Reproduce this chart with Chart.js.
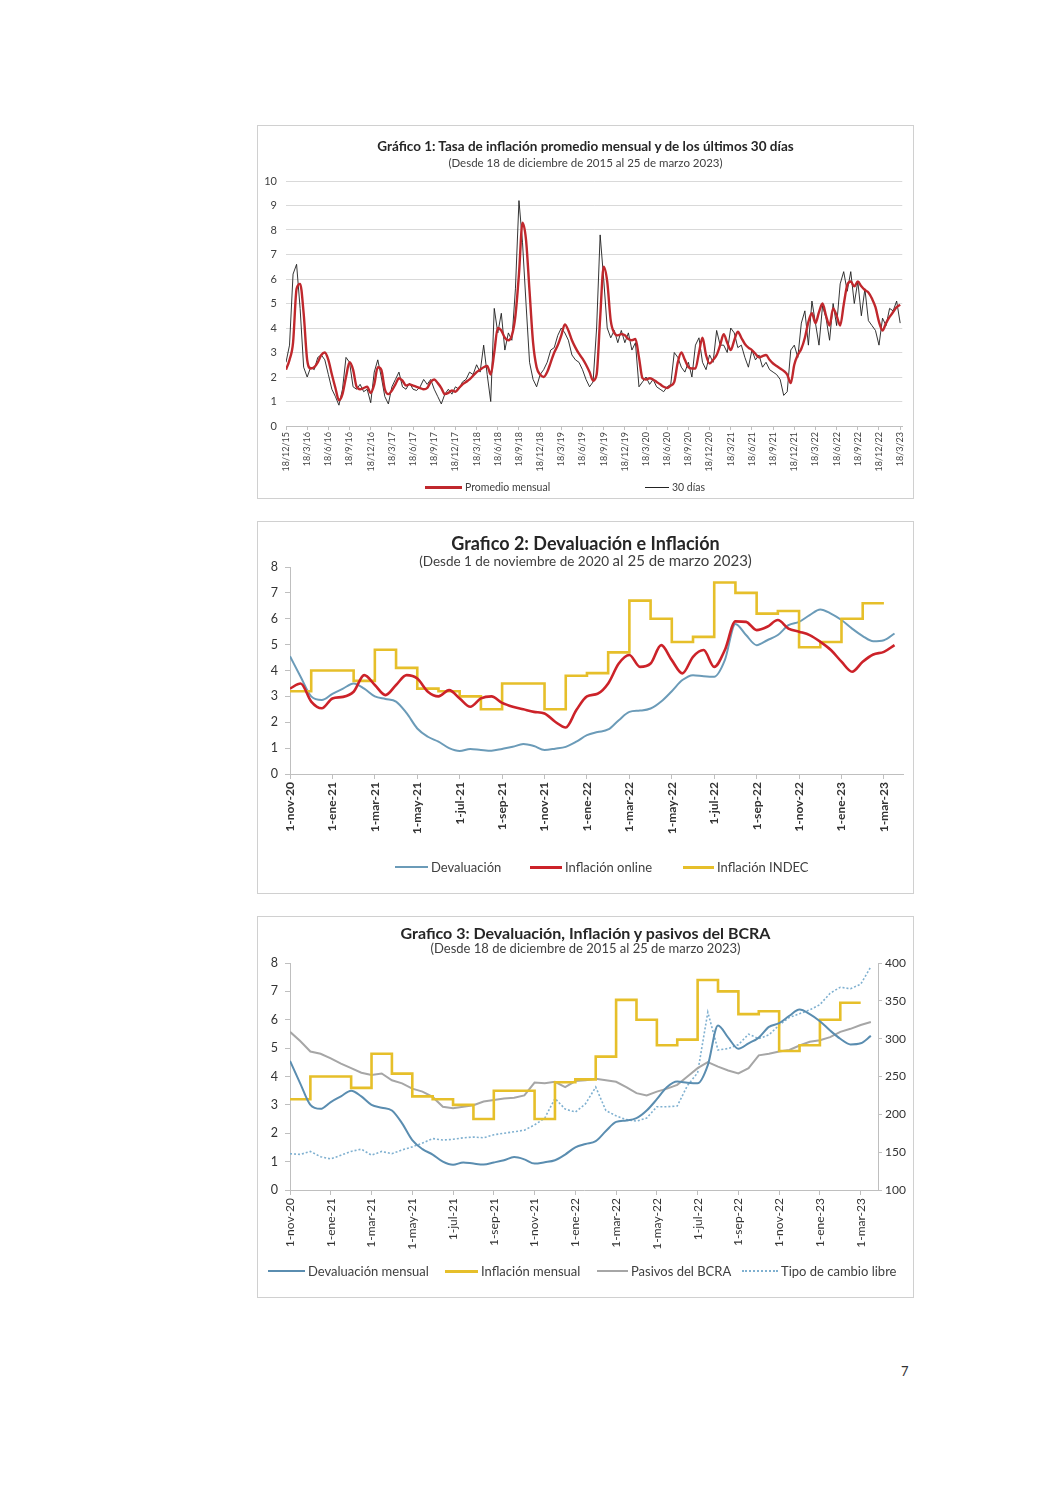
<!DOCTYPE html>
<html>
<head>
<meta charset="utf-8">
<script src="https://cdn.jsdelivr.net/npm/chart.js@4.4.1/dist/chart.umd.min.js"></script>
<style>
  body { margin: 0; background: #fff; width: 1060px; height: 1500px; position: relative;
         font-family: Lato, "Open Sans", sans-serif; color: #262626; }
  .box { position: absolute; border: 1px solid #d0d0d0; background: #fff; }
  .box canvas { position: absolute; left: 0; top: 0; }
  .title { position: absolute; left: 0; width: 100%; text-align: center; font-weight: bold; white-space: nowrap; z-index: 2; }
  .sub { position: absolute; left: 0; width: 100%; text-align: center; white-space: nowrap; color: #404040; z-index: 2; }
  .lg { position: absolute; display: flex; align-items: center; white-space: nowrap; color: #404040; z-index: 2; }
  .ln { display: inline-block; height: 0; margin-right: 3px; }
  .page { position: absolute; left: 901px; top: 1363px; font-size: 13px; color: #333; }
</style>
</head>
<body>

<div class="box" style="left:257px;top:125px;width:655px;height:372px;">
  <div class="title" style="top:11px;font-size:13.5px;line-height:18px;">Gráfico 1: Tasa de inflación promedio mensual y de los últimos 30 días</div>
  <div class="sub" style="top:30px;font-size:11.5px;line-height:14px;">(Desde 18 de diciembre de 2015 al 25 de marzo 2023)</div>
  <canvas id="chart1" width="655" height="372"></canvas>
  <div class="lg" style="left:167px;top:354px;font-size:10.5px;line-height:14px;"><span class="ln" style="width:37px;border-top:3px solid #c0282d;"></span>Promedio mensual</div>
  <div class="lg" style="left:387px;top:354px;font-size:10.5px;line-height:14px;"><span class="ln" style="width:24px;border-top:1px solid #222;"></span>30 días</div>
</div>

<div class="box" style="left:257px;top:521px;width:655px;height:371px;">
  <div class="title" style="top:10px;font-size:18px;line-height:22px;">Grafico 2: Devaluación e Inflación</div>
  <div class="sub" style="top:30px;font-size:13.5px;line-height:16px;">(Desde 1 de noviembre de 2020 <span style="font-size:15px;">al 25 de marzo 2023)</span></div>
  <canvas id="chart2" width="655" height="371"></canvas>
  <div class="lg" style="left:137px;top:337px;font-size:13px;line-height:16px;"><span class="ln" style="width:33px;border-top:2px solid #6b9bb8;"></span>Devaluación</div>
  <div class="lg" style="left:272px;top:337px;font-size:13px;line-height:16px;"><span class="ln" style="width:32px;border-top:3px solid #cc2229;"></span>Inflación online</div>
  <div class="lg" style="left:425px;top:337px;font-size:13px;line-height:16px;"><span class="ln" style="width:31px;border-top:3px solid #e6bf2a;"></span>Inflación INDEC</div>
</div>

<div class="box" style="left:257px;top:916px;width:655px;height:380px;">
  <div class="title" style="top:6px;font-size:16px;line-height:20px;">Grafico 3: Devaluación, Inflación y pasivos del BCRA</div>
  <div class="sub" style="top:24px;font-size:13px;line-height:15px;">(Desde 18 de diciembre de 2015 al 25 de marzo 2023)</div>
  <canvas id="chart3" width="655" height="380"></canvas>
  <div class="lg" style="left:10px;top:346px;font-size:13px;line-height:16px;"><span class="ln" style="width:37px;border-top:2px solid #5a8db0;"></span>Devaluación mensual</div>
  <div class="lg" style="left:187px;top:346px;font-size:13px;line-height:16px;"><span class="ln" style="width:33px;border-top:3px solid #e6bf2a;"></span>Inflación mensual</div>
  <div class="lg" style="left:339px;top:346px;font-size:13px;line-height:16px;"><span class="ln" style="width:31px;border-top:2px solid #a6a6a6;"></span>Pasivos del BCRA</div>
  <div class="lg" style="left:484px;top:346px;font-size:13px;line-height:16px;"><span class="ln" style="width:36px;border-top:2px dotted #7fb0d0;"></span>Tipo de cambio libre</div>
</div>

<div class="page">7</div>

<script>
/* ===== DATA ===== */

// Gráfico 1: x labels every 3 months (18/12/15 ... 18/3/23)
const quarterLabels = ['18/12/15','18/3/16','18/6/16','18/9/16','18/12/16','18/3/17','18/6/17','18/9/17',
  '18/12/17','18/3/18','18/6/18','18/9/18','18/12/18','18/3/19','18/6/19','18/9/19','18/12/19','18/3/20',
  '18/6/20','18/9/20','18/12/20','18/3/21','18/6/21','18/9/21','18/12/21','18/3/22','18/6/22','18/9/22',
  '18/12/22','18/3/23'];

// Promedio mensual, one value every half month from 18/12/15
const promedioMensual = [
  2.3, 2.7, 3.4, 5.6, 5.8, 4.6, 2.7, 2.35, 2.4, 2.6, 2.9, 3.0,
  2.7, 2.1, 1.55, 1.05, 1.3, 2.0, 2.6, 2.3, 1.6, 1.5, 1.55, 1.6,
  1.35, 1.7, 2.4, 2.3, 1.5, 1.3, 1.45, 1.7, 1.95, 1.85, 1.65, 1.7,
  1.65, 1.6, 1.55, 1.5, 1.55, 1.8, 1.9, 1.75, 1.55, 1.3, 1.35, 1.45,
  1.4, 1.55, 1.7, 1.8, 1.9, 2.05, 2.2, 2.3, 2.4, 2.45, 2.1, 3.0,
  4.0, 3.9, 3.6, 3.5, 3.7, 4.5, 6.2, 8.3, 7.6, 5.5, 3.4, 2.4,
  2.1, 2.0, 2.2, 2.6, 3.0, 3.3, 3.7, 4.15, 3.9, 3.5, 3.2, 2.95,
  2.75, 2.5, 2.2, 1.85, 2.1, 4.4, 6.5, 5.9, 4.3, 3.8, 3.7, 3.75,
  3.7, 3.55, 3.5, 3.55, 2.8, 1.95, 1.9, 1.95, 1.9, 1.8, 1.7, 1.6,
  1.55, 1.65, 1.8, 2.6, 3.0, 2.7, 2.4, 2.35, 2.35, 3.0, 3.6, 2.9,
  2.55, 2.7, 2.9, 3.3, 3.75, 3.4, 3.1, 3.5, 3.85, 3.6, 3.35, 3.2,
  3.1, 2.95, 2.8, 2.85, 2.9, 2.7, 2.55, 2.45, 2.35, 2.25, 2.1, 1.75,
  2.5, 2.9, 3.15, 3.6, 4.25, 4.6, 4.2, 4.65, 5.0, 4.5, 4.1, 4.8,
  4.5, 4.1, 4.95, 5.75, 5.9, 5.7, 5.9, 5.7, 5.55, 5.45, 5.2, 4.85,
  4.25, 3.9, 4.2, 4.45, 4.65, 4.85, 4.95
];

// 30 días, same half-month steps
const ultimos30 = [
  2.6, 3.3, 6.2, 6.6, 4.8, 2.4, 2.0, 2.4, 2.3, 2.8, 2.9, 2.7,
  2.1, 1.5, 1.2, 0.85, 1.5, 2.8, 2.6, 1.6, 1.5, 1.7, 1.4, 1.5,
  0.95, 2.2, 2.7, 2.0, 1.2, 0.9, 1.6, 1.9, 2.2, 1.6, 1.5, 1.75,
  1.5, 1.45, 1.6, 1.9, 1.7, 1.9, 1.5, 1.2, 0.9, 1.3, 1.5, 1.3,
  1.6, 1.5, 1.8, 1.9, 2.2, 2.1, 2.5, 2.2, 3.3, 2.1, 1.0, 4.8,
  3.8, 4.6, 3.1, 3.8, 3.5, 5.6, 9.2, 7.5, 5.0, 2.6, 1.9, 1.6,
  2.1, 2.3, 2.6, 3.1, 3.2, 3.7, 4.0, 3.8, 3.5, 2.9, 2.7, 2.6,
  2.3, 1.9, 1.6, 1.8, 4.0, 7.8, 6.0, 4.0, 3.6, 3.9, 3.4, 3.9,
  3.4, 3.8, 3.1, 3.4, 1.6, 1.8, 2.0, 1.7, 1.9, 1.6, 1.5, 1.4,
  1.6, 1.7, 3.0, 2.8, 2.4, 2.2, 2.6, 2.0, 3.3, 3.6, 2.6, 2.3,
  2.9, 2.6, 3.9, 3.3, 3.3, 3.0, 4.0, 3.8, 3.2, 3.3, 2.8, 2.4,
  3.1, 2.7, 2.9, 2.4, 2.6, 2.3, 2.2, 2.1, 1.9, 1.25, 1.4, 3.1,
  3.3, 2.8, 4.2, 4.7, 3.3, 5.1, 4.2, 3.3, 4.9, 4.4, 3.5, 5.0,
  4.1, 5.8, 6.3, 5.5, 6.3, 5.0, 5.9, 4.5, 5.6, 4.3, 4.1, 3.9,
  3.3, 4.4, 4.1, 4.8, 4.7, 5.1, 4.2
];

// Gráficos 2 y 3: x labels every 2 months from 1-nov-20
const monthLabels = ['1-nov-20','1-ene-21','1-mar-21','1-may-21','1-jul-21','1-sep-21','1-nov-21',
  '1-ene-22','1-mar-22','1-may-22','1-jul-22','1-sep-22','1-nov-22','1-ene-23','1-mar-23'];

// Devaluación mensual, half-month steps from 1-nov-20
const devaluacion = [
  4.55, 3.76, 3.0, 2.86, 3.1, 3.3, 3.5, 3.3, 3.0, 2.9, 2.8, 2.35,
  1.76, 1.44, 1.25, 1.0, 0.89, 0.97, 0.93, 0.9, 0.97, 1.05, 1.16, 1.08,
  0.93, 0.98, 1.05, 1.25, 1.5, 1.62, 1.72, 2.08, 2.4, 2.45, 2.53, 2.8,
  3.2, 3.63, 3.82, 3.78, 3.76, 4.4, 5.8, 5.37, 4.98, 5.17, 5.37, 5.75,
  5.88, 6.14, 6.36, 6.2, 5.95, 5.62, 5.33, 5.13, 5.17, 5.43
];

// Inflación online, half-month steps
const inflacionOnline = [
  3.3, 3.5, 2.8, 2.54, 2.92, 2.98, 3.18, 3.82, 3.44, 3.05, 3.44, 3.82,
  3.69, 3.18, 3.0, 3.24, 2.92, 2.6, 2.92, 3.0, 2.75, 2.6, 2.5, 2.4,
  2.34, 2.02, 1.8, 2.47, 3.0, 3.1, 3.5, 4.27, 4.6, 4.14, 4.27, 4.98,
  4.4, 3.89, 4.53, 4.79, 4.14, 4.79, 5.9, 5.88, 5.56, 5.69, 5.95, 5.62,
  5.5, 5.37, 5.11, 4.79, 4.34, 3.95, 4.34, 4.62, 4.72, 4.98
];

// Inflación INDEC, monthly nov-20 .. feb-23
const inflacionIndec = [3.2, 4.0, 4.0, 3.6, 4.8, 4.1, 3.3, 3.2, 3.0, 2.5, 3.5, 3.5, 2.5, 3.8,
  3.9, 4.7, 6.7, 6.0, 5.1, 5.3, 7.4, 7.0, 6.2, 6.3, 4.9, 5.1, 6.0, 6.6];

// Pasivos del BCRA (right axis), half-month steps
const pasivosBcra = [
  309, 297, 283, 280, 274, 267, 261, 255, 252, 254, 245, 241,
  234, 230, 223, 210, 208, 210, 212, 217, 219, 221, 222, 225,
  242, 241, 243, 236, 244, 245, 247, 245, 243, 236, 228, 225,
  230, 234, 239, 250, 261, 269, 263, 258, 254, 261, 278, 280,
  283, 285, 291, 296, 298, 302, 309, 313, 318, 322
];

// Tipo de cambio libre (right axis), half-month steps
const tipoCambioLibre = [
  148, 147, 151, 144, 141, 146, 151, 154, 146, 151, 148, 153,
  157, 162, 168, 166, 167, 169, 170, 169, 173, 175, 177, 179,
  186, 195, 221, 207, 203, 214, 236, 205, 198, 193, 191, 195,
  210, 210, 211, 238, 255, 335, 285, 287, 292, 306, 300, 305,
  318, 328, 333, 338, 345, 360, 368, 366, 372, 395
];

/* ===== HELPERS ===== */

const FONT_FAMILY = 'Lato, "Open Sans", sans-serif';

function halfMonthPoints(values) {
  return values.map((v, i) => ({ x: i * 0.5, y: v }));
}

// monthly step: each value holds for one month, closing point at the end
function stepPoints(values) {
  const pts = values.map((v, i) => ({ x: i, y: v }));
  pts.push({ x: values.length, y: values[values.length - 1] });
  return pts;
}

function labelTicks(labels, step) {
  return function(scale) {
    scale.ticks = labels.map((l, i) => ({ value: i * step }));
  };
}

function fixWidth(w) { return function(scale) { scale.width = w; }; }
function fixHeight(h) { return function(scale) { scale.height = h; }; }

const baseOptions = {
  responsive: false,
  animation: false,
  events: [],
  plugins: { legend: { display: false }, tooltip: { enabled: false } },
  elements: { point: { radius: 0 } },
};

/* ===== GRÁFICO 1 ===== */

(function() {
  const ctx = document.getElementById('chart1');
  new Chart(ctx, {
    type: 'line',
    data: {
      datasets: [
        {
          label: 'Promedio mensual',
          data: halfMonthPoints(promedioMensual),
          borderColor: '#c0282d',
          borderWidth: 2.4,
          tension: 0.3,
          cubicInterpolationMode: 'monotone',
        },
        {
          label: '30 días',
          data: halfMonthPoints(ultimos30),
          borderColor: '#1e1e1e',
          borderWidth: 0.9,
          tension: 0,
        },
      ]
    },
    options: {
      ...baseOptions,
      layout: { padding: { left: 0, top: 55, right: 7, bottom: 0 } },
      scales: {
        x: {
          type: 'linear', min: 0, max: 87.3,
          afterBuildTicks: labelTicks(quarterLabels, 3),
          afterFit: fixHeight(72),
          grid: { drawOnChartArea: false, drawTicks: true, tickLength: 4, color: '#bfbfbf' },
          border: { color: '#bfbfbf' },
          ticks: {
            autoSkip: false, maxRotation: 90, minRotation: 90, padding: 2,
            font: { family: FONT_FAMILY, size: 9 }, color: '#404040',
            callback(v, i) { return quarterLabels[i]; }
          }
        },
        y: {
          min: 0, max: 10,
          afterFit: fixWidth(28),
          grid: { color: '#d9d9d9', drawTicks: false },
          border: { display: false },
          ticks: { stepSize: 1, padding: 9, font: { family: FONT_FAMILY, size: 11 }, color: '#404040' }
        }
      }
    }
  });
})();

/* ===== GRÁFICO 2 ===== */

(function() {
  const ctx = document.getElementById('chart2');
  new Chart(ctx, {
    type: 'line',
    data: {
      datasets: [
        {
          label: 'Inflación online',
          data: halfMonthPoints(inflacionOnline),
          borderColor: '#cc2229',
          borderWidth: 2.6,
          tension: 0.35,
          cubicInterpolationMode: 'monotone',
        },
        {
          label: 'Inflación INDEC',
          data: stepPoints(inflacionIndec),
          borderColor: '#e6bf2a',
          borderWidth: 2.6,
          stepped: true,
        },
        {
          label: 'Devaluación',
          data: halfMonthPoints(devaluacion),
          borderColor: '#6b9bb8',
          borderWidth: 2,
          tension: 0.35,
          cubicInterpolationMode: 'monotone',
        },
      ]
    },
    options: {
      ...baseOptions,
      layout: { padding: { left: 0, top: 45, right: 10, bottom: 0 } },
      scales: {
        x: {
          type: 'linear', min: 0, max: 28.9,
          afterBuildTicks: labelTicks(monthLabels, 2),
          afterFit: fixHeight(119),
          grid: { drawOnChartArea: false, tickLength: 5, color: '#bfbfbf' },
          border: { color: '#bfbfbf' },
          ticks: {
            autoSkip: false, maxRotation: 90, minRotation: 90, padding: 3,
            font: { family: FONT_FAMILY, size: 12, weight: 'bold' }, color: '#333',
            callback(v, i) { return monthLabels[i]; }
          }
        },
        y: {
          min: 0, max: 8,
          afterFit: fixWidth(32),
          grid: { drawOnChartArea: false, tickLength: 5, color: '#bfbfbf' },
          border: { display: true, color: '#bfbfbf' },
          ticks: { stepSize: 1, padding: 7, font: { family: FONT_FAMILY, size: 12.5 }, color: '#333' }
        }
      }
    }
  });
})();

/* ===== GRÁFICO 3 ===== */

(function() {
  const ctx = document.getElementById('chart3');
  new Chart(ctx, {
    type: 'line',
    data: {
      datasets: [
        {
          label: 'Devaluación mensual',
          data: halfMonthPoints(devaluacion),
          borderColor: '#5a8db0',
          borderWidth: 2,
          tension: 0.35,
          cubicInterpolationMode: 'monotone',
          yAxisID: 'y',
        },
        {
          label: 'Inflación mensual',
          data: stepPoints(inflacionIndec),
          borderColor: '#e6bf2a',
          borderWidth: 2.6,
          stepped: true,
          yAxisID: 'y',
        },
        {
          label: 'Pasivos del BCRA',
          data: halfMonthPoints(pasivosBcra),
          borderColor: '#a6a6a6',
          borderWidth: 2,
          tension: 0,
          yAxisID: 'y1',
        },
        {
          label: 'Tipo de cambio libre',
          data: halfMonthPoints(tipoCambioLibre),
          borderColor: '#7fb0d0',
          borderWidth: 1.6,
          borderDash: [2, 2],
          tension: 0,
          yAxisID: 'y1',
        },
      ]
    },
    options: {
      ...baseOptions,
      layout: { padding: { left: 0, top: 46, right: 5, bottom: 0 } },
      scales: {
        x: {
          type: 'linear', min: 0, max: 28.85,
          afterBuildTicks: labelTicks(monthLabels, 2),
          afterFit: fixHeight(107),
          grid: { drawOnChartArea: false, tickLength: 5, color: '#bfbfbf' },
          border: { color: '#bfbfbf' },
          ticks: {
            autoSkip: false, maxRotation: 90, minRotation: 90, padding: 3,
            font: { family: FONT_FAMILY, size: 12 }, color: '#333',
            callback(v, i) { return monthLabels[i]; }
          }
        },
        y: {
          position: 'left', min: 0, max: 8,
          afterFit: fixWidth(32),
          grid: { drawOnChartArea: false, tickLength: 5, color: '#bfbfbf' },
          border: { display: true, color: '#bfbfbf' },
          ticks: { stepSize: 1, padding: 7, font: { family: FONT_FAMILY, size: 12.5 }, color: '#333' }
        },
        y1: {
          position: 'right', min: 100, max: 400,
          afterFit: fixWidth(30),
          grid: { drawOnChartArea: false, tickLength: 4, color: '#bfbfbf' },
          border: { display: true, color: '#bfbfbf' },
          ticks: { stepSize: 50, padding: 3, font: { family: FONT_FAMILY, size: 12 }, color: '#333' }
        }
      }
    }
  });
})();
</script>
</body>
</html>
